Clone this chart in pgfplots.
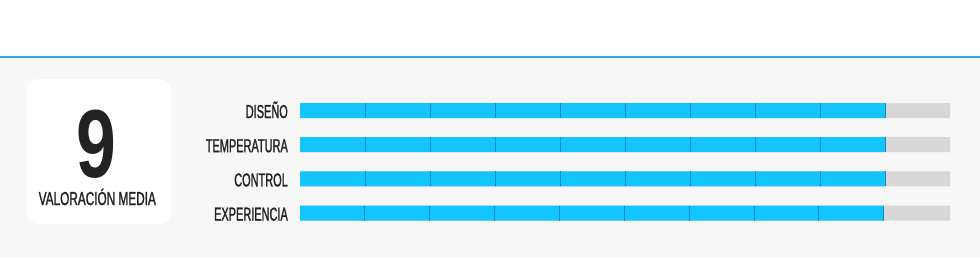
\documentclass[border=0pt]{standalone}
\usepackage{pgfplots}
\pgfplotsset{compat=1.18}
\usepackage{fontspec}
\setmainfont{Liberation Sans}
\newfontfamily\cond[FakeStretch=0.585,FakeBold=1.2]{Liberation Sans}
\newfontfamily\condv[FakeStretch=0.63,FakeBold=1.2]{Liberation Sans}
\newfontfamily\condb[FakeStretch=0.74]{Liberation Sans}
\definecolor{bgc}{HTML}{F7F7F7}
\definecolor{linec}{HTML}{29ABE2}
\definecolor{barblue}{HTML}{14C4FF}
\definecolor{divc}{HTML}{0A8CBC}
\definecolor{bargrey}{HTML}{D7D7D7}
\definecolor{txt}{HTML}{222222}
\begin{document}
\begin{tikzpicture}[x=1bp,y=1bp]
\useasboundingbox (0,0) rectangle (980,257);
\fill[white] (0,200) rectangle (980,257);
\fill[bgc] (0,0) rectangle (980,200);
\draw[linec, line width=1.2bp] (0,200) -- (980,200);
\fill[white, rounded corners=12bp] (26.5,33) rectangle (171,178);
\node[anchor=base, text=txt, inner sep=0pt] at (96.5,80) {\condb\bfseries\fontsize{97}{97}\selectfont 9};
\node[anchor=base, text=txt, inner sep=0pt] at (97.3,52) {\condv\fontsize{18.8}{20}\selectfont VALORACIÓN MEDIA};
\begin{axis}[
  at={(300bp,26.8bp)}, anchor=south west,
  scale only axis, width=650bp, height=136.8bp,
  xmin=0, xmax=10, ymin=-0.5, ymax=3.5, y dir=reverse,
  axis line style={draw=none},
  hide x axis,
  ytick={0,1,2,3},
  yticklabels={DISEÑO,TEMPERATURA,CONTROL,EXPERIENCIA},
  major tick length=0pt,
  yticklabel style={font=\cond\fontsize{18.8}{20}\selectfont, text=txt, inner sep=0pt, anchor=east, xshift=-12bp, yshift=-1bp, text height=13bp, text depth=0pt},
  clip=false,
]
\addplot[xbar, bar width=15bp, bar shift=0pt, fill=bargrey, draw=none] coordinates {(10,0) (10,1) (10,2) (10,3)};
\addplot[xbar, bar width=15bp, bar shift=0pt, fill=barblue, draw=none] coordinates {(9,0) (9,1) (9,2) (8.98,3)};
\addplot[only marks, mark=|, mark size=7.5bp, mark options={draw=divc, line width=0.9bp}] coordinates {
(1,0) (2,0) (3,0) (4,0) (5,0) (6,0) (7,0) (8,0) (9,0)
(1,1) (2,1) (3,1) (4,1) (5,1) (6,1) (7,1) (8,1) (9,1)
(1,2) (2,2) (3,2) (4,2) (5,2) (6,2) (7,2) (8,2) (9,2)
(0.998,3) (1.996,3) (2.993,3) (3.991,3) (4.989,3) (5.987,3) (6.984,3) (7.982,3) (8.98,3)};
\end{axis}
\end{tikzpicture}
\end{document}
